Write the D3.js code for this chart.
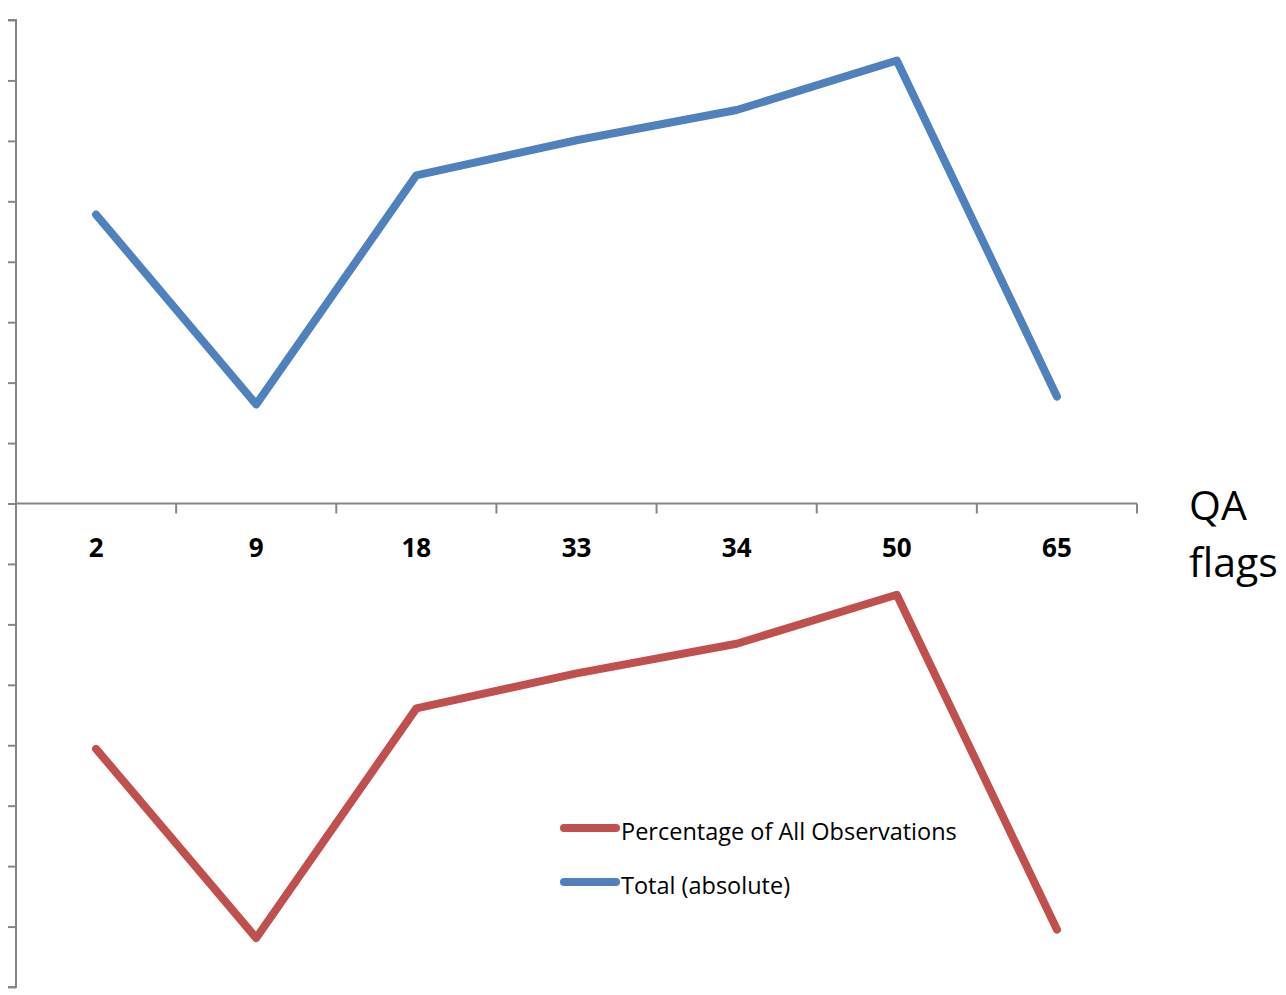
<!DOCTYPE html>
<html><head><meta charset="utf-8">
<script src="https://cdn.jsdelivr.net/npm/d3@7"></script>
<style>body{margin:0;background:#fff}svg{display:block}</style>
</head><body>
<script>
const categories = ["2","9","18","33","34","50","65"];
const totalAbsolute = [4.78, 1.64, 5.43, 6.01, 6.51, 7.33, 1.77];
const percentageAll = [-4.06, -7.19, -3.39, -2.81, -2.32, -1.51, -7.05];
const yTicks = d3.range(-8, 9, 1);

const W = 1286, H = 995;
const svg = d3.select("body").append("svg").attr("width", W).attr("height", H);
const font = "'Open Sans', sans-serif";

const x = d3.scaleBand().domain(categories).range([16, 1137]).paddingInner(0).paddingOuter(0);
const y = d3.scaleLinear().domain([-8, 8]).range([987, 20]);
const axisColor = "#868686";

// y axis
const yAxis = svg.append("g").attr("transform", "translate(16,0)")
  .call(d3.axisLeft(y).tickValues(yTicks).tickSize(8).tickFormat(""));
yAxis.selectAll("path,line").attr("stroke", axisColor).attr("stroke-width", 2);
yAxis.select(".domain").attr("d", `M-8,${y(8)}H0V${y(-8)}H-8`);

// x axis at zero
const xAxis = svg.append("g").attr("transform", `translate(0,${y(0)})`);
xAxis.append("line").attr("x1", 16).attr("x2", 1137).attr("stroke", axisColor).attr("stroke-width", 2);
const bounds = categories.map(c => x(c)).concat([x.range()[1]]);
xAxis.selectAll("line.tk").data(bounds).join("line").attr("class","tk")
  .attr("x1", d => d).attr("x2", d => d).attr("y1", 0).attr("y2", 10)
  .attr("stroke", axisColor).attr("stroke-width", 2);
xAxis.selectAll("text").data(categories).join("text")
  .attr("x", d => x(d) + x.bandwidth()/2).attr("y", 53)
  .attr("text-anchor", "middle").attr("font-family", font).attr("font-weight", "bold")
  .attr("font-size", 26).attr("fill", "#000").text(d => d);

svg.append("text").attr("x", 1189).attr("y", 520).attr("font-family", font).attr("font-size", 41).text("QA");
svg.append("text").attr("x", 1189).attr("y", 577).attr("font-family", font).attr("font-size", 41).text("flags");

const line = d3.line().x((d,i) => x(categories[i]) + x.bandwidth()/2).y(d => y(d));
svg.append("path").datum(totalAbsolute).attr("d", line).attr("fill","none")
  .attr("stroke","#4F81BD").attr("stroke-width",8).attr("stroke-linejoin","round").attr("stroke-linecap","round");
svg.append("path").datum(percentageAll).attr("d", line).attr("fill","none")
  .attr("stroke","#C0504D").attr("stroke-width",8).attr("stroke-linejoin","round").attr("stroke-linecap","round");

// legend
const legend = [["Percentage of All Observations","#C0504D",828],["Total (absolute)","#4F81BD",882]];
legend.forEach(([t,c,ly]) => {
  svg.append("line").attr("x1",564).attr("x2",616).attr("y1",ly).attr("y2",ly)
    .attr("stroke",c).attr("stroke-width",8).attr("stroke-linecap","round");
  svg.append("text").attr("x",621).attr("y",ly+12).attr("font-family",font).attr("font-size",23.5).attr("fill","#000").text(t);
});
</script>
</body></html>
